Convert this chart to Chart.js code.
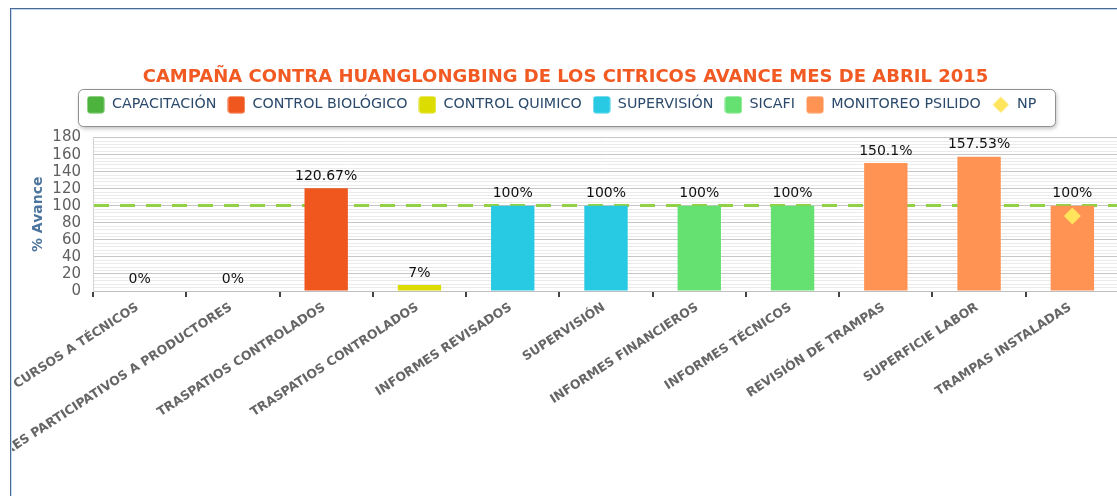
<!DOCTYPE html>
<html>
<head>
<meta charset="utf-8">
<script src="https://cdn.jsdelivr.net/npm/chart.js@4/dist/chart.umd.min.js"></script>
<style>
  html, body { margin: 0; padding: 0; background: #fff; overflow: hidden; }
  #frame { position: absolute; left: 10px; top: 8px; width: 1140px; height: 520px;
           border-left: 1px solid #4d6795; border-top: 1px solid #4d6795;
           box-shadow: inset 1px 1px 0 #c2dcef; }
  #wrap { position: absolute; left: 1px; top: 1px; width: 1116px; height: 487px; }
</style>
</head>
<body>
<div id="frame"><div id="wrap"><canvas id="chart"></canvas></div></div>
<script>
// ===== Data =====
const categories = [
  "CURSOS A TÉCNICOS",
  "TALLERES PARTICIPATIVOS A PRODUCTORES",
  "TRASPATIOS CONTROLADOS",
  "TRASPATIOS CONTROLADOS",
  "INFORMES REVISADOS",
  "SUPERVISIÓN",
  "INFORMES FINANCIEROS",
  "INFORMES TÉCNICOS",
  "REVISIÓN DE TRAMPAS",
  "SUPERFICIE LABOR",
  "TRAMPAS INSTALADAS"
];

const capacitacion     = [0, 0, null, null, null, null, null, null, null, null, null];
const controlBiologico = [null, null, 120.67, null, null, null, null, null, null, null, null];
const controlQuimico   = [null, null, null, 7, null, null, null, null, null, null, null];
const supervision      = [null, null, null, null, 100, 100, null, null, null, null, null];
const sicafi           = [null, null, null, null, null, null, 100, 100, null, null, null];
const monitoreoPsilido = [null, null, null, null, null, null, null, null, 150.1, 157.53, 100];
const np               = [null, null, null, null, null, null, null, null, null, null, 88];

const targetValue = 100;
const yTicks = { min: 0, max: 180, major: 20, minor: 4 };

const titleText = "CAMPAÑA CONTRA HUANGLONGBING DE LOS CITRICOS AVANCE MES DE ABRIL 2015";

// ===== Styles =====
const font = "'DejaVu Sans', sans-serif";
Chart.defaults.font.family = font;

function swatch(color, diamond) {
  const c = document.createElement('canvas');
  c.width = 18; c.height = 18;
  const g = c.getContext('2d');
  g.fillStyle = color;
  g.beginPath();
  if (diamond) {
    g.moveTo(9, 1); g.lineTo(17, 9); g.lineTo(9, 17); g.lineTo(1, 9); g.closePath();
  } else {
    g.roundRect(0.5, 0.5, 17, 17, 3);
  }
  g.fill();
  return c;
}

function barSet(label, data, color) {
  return {
    type: 'bar', label, data,
    backgroundColor: color,
    grouped: false,
    barPercentage: 0.465,
    categoryPercentage: 1,
    legendSwatch: swatch(color, false),
    order: 2
  };
}

const datasets = [
  barSet("CAPACITACIÓN", capacitacion, '#4cb43c'),
  barSet("CONTROL BIOLÓGICO", controlBiologico, '#f0571e'),
  barSet("CONTROL QUIMICO", controlQuimico, '#dcdc00'),
  barSet("SUPERVISIÓN", supervision, '#27c9e3'),
  barSet("SICAFI", sicafi, '#65e171'),
  barSet("MONITOREO PSILIDO", monitoreoPsilido, '#ff9354'),
  {
    type: 'line', label: "NP", data: np,
    showLine: false,
    pointStyle: 'rectRot',
    pointRadius: 8.5,
    pointHoverRadius: 8.5,
    backgroundColor: '#ffe45c',
    borderWidth: 0,
    legendSwatch: swatch('#ffe45c', true),
    order: 1
  }
];

// ===== Plugins =====
const targetLine = {
  id: 'targetLine',
  beforeDatasetsDraw(chart) {
    const {ctx, chartArea, scales} = chart;
    const y = Math.round(scales.y.getPixelForValue(targetValue)) - 0.5;
    ctx.save();
    ctx.strokeStyle = '#92d045';
    ctx.lineWidth = 3;
    ctx.setLineDash([15, 11]);
    ctx.beginPath();
    ctx.moveTo(chartArea.left + 1, y);
    ctx.lineTo(chartArea.right, y);
    ctx.stroke();
    ctx.restore();
  }
};

const valueLabels = {
  id: 'valueLabels',
  afterDatasetsDraw(chart) {
    const ctx = chart.ctx;
    ctx.save();
    ctx.font = "14px " + font;
    ctx.fillStyle = '#111';
    ctx.textAlign = 'center';
    ctx.textBaseline = 'bottom';
    chart.data.datasets.forEach((ds, di) => {
      if (ds.type !== 'bar') return;
      chart.getDatasetMeta(di).data.forEach((bar, i) => {
        const v = ds.data[i];
        if (v === null || v === undefined) return;
        ctx.fillText(v + '%', bar.x, bar.y - 5);
      });
    });
    ctx.restore();
  }
};

const legendFrame = {
  id: 'legendFrame',
  beforeUpdate(chart) {
    const lg = chart.legend;
    if (lg && !lg._patched) {
      const fit = lg.fit;
      lg.fit = function () { fit.call(this); this.height = 51; };
      lg._patched = true;
    }
  },
  afterLayout(chart) {
    // nudge the legend a little to the left, as in the original
    chart.legend.left -= 4;
    chart.legend.right -= 4;
  },
  beforeDraw(chart) {
    const boxes = chart.legend && chart.legend.legendHitBoxes;
    if (!boxes || !boxes.length) return;
    const ctx = chart.ctx;
    const left = Math.round(Math.min(...boxes.map(b => b.left)) - 9) + 0.5;
    const right = Math.round(Math.max(...boxes.map(b => b.left + b.width)) + 19) + 0.5;
    const cy = boxes[0].top + boxes[0].height / 2;
    const top = Math.round(cy - 16) + 0.5, bottom = Math.round(cy + 21) + 0.5;
    const path = () => { ctx.beginPath(); ctx.roundRect(left, top, right - left, bottom - top, 5); };
    ctx.save();
    ctx.shadowColor = 'rgba(0,0,0,0.28)';
    ctx.shadowBlur = 4;
    ctx.shadowOffsetX = 1;
    ctx.shadowOffsetY = 2;
    path();
    ctx.fillStyle = '#fff';
    ctx.fill();
    ctx.restore();
    ctx.save();
    path();
    ctx.strokeStyle = '#909090';
    ctx.lineWidth = 1;
    ctx.stroke();
    ctx.restore();
  }
};

// ===== Chart =====
new Chart(document.getElementById('chart'), {
  data: { labels: categories, datasets },
  plugins: [legendFrame, targetLine, valueLabels],
  options: {
    responsive: true,
    maintainAspectRatio: false,
    animation: false,
    layout: { padding: { left: 0, right: 9, top: 0, bottom: 0 } },
    plugins: {
      title: {
        display: true,
        text: titleText,
        color: '#f15a22',
        font: { size: 18, weight: 'bold' },
        padding: { top: 57, bottom: -2 }
      },
      legend: {
        position: 'top',
        labels: {
          usePointStyle: true,
          pointStyleWidth: 18,
          padding: 11,
          color: '#2b4a6b',
          font: { size: 14.3 },
          generateLabels: chart => chart.data.datasets.map((ds, i) => ({
            text: ds.label,
            pointStyle: ds.legendSwatch,
            fillStyle: 'transparent',
            strokeStyle: 'transparent',
            lineWidth: 0,
            hidden: !chart.isDatasetVisible(i),
            datasetIndex: i,
            fontColor: '#2b4a6b'
          }))
        }
      },
      tooltip: { enabled: false }
    },
    scales: {
      x: {
        type: 'category',
        grid: {
          offset: true,
          drawOnChartArea: false,
          drawTicks: true,
          tickLength: 6,
          color: '#444',
          lineWidth: 2
        },
        border: { display: true, color: '#c0c0c0', width: 1 },
        ticks: {
          autoSkip: false,
          minRotation: 33,
          maxRotation: 33,
          padding: 3,
          labelOffset: -2,
          color: '#666',
          font: { size: 12.5, weight: 'bold' }
        },
        afterFit(scale) {
          scale.height = 206;
          scale.paddingLeft = 0;
          scale.paddingRight = 0;
        }
      },
      y: {
        min: yTicks.min,
        max: yTicks.max,
        grid: {
          drawTicks: false,
          color: c => (c.tick && c.tick.value % yTicks.major === 0) ? '#c6c6c6' : '#ebebeb',
          lineWidth: 1
        },
        border: { display: true, color: '#d4d4d4' },
        ticks: {
          stepSize: yTicks.minor,
          maxTicksLimit: (yTicks.max - yTicks.min) / yTicks.minor + 1,
          autoSkip: false,
          padding: 12,
          color: '#606060',
          font: { size: 15 },
          callback: v => (v % yTicks.major === 0 ? v : '')
        },
        title: {
          display: true,
          text: '% Avance',
          color: '#4d759e',
          font: { size: 14, weight: 'bold' },
          padding: { top: 18, bottom: 0 }
        },
        afterFit(scale) {
          scale.width = 81;
        }
      }
    }
  }
});
</script>
</body>
</html>
